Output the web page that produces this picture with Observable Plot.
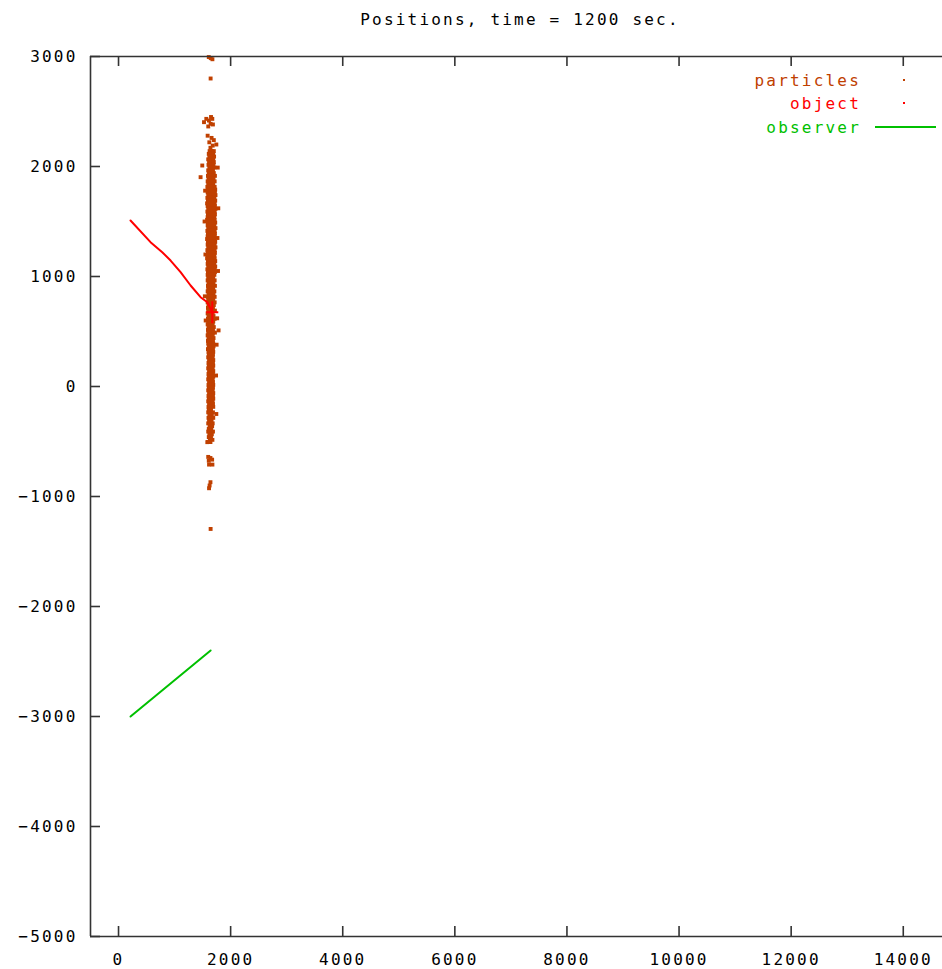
<!DOCTYPE html>
<html>
<head>
<meta charset="utf-8">
<script src="https://cdn.jsdelivr.net/npm/d3@7"></script>
<script src="https://cdn.jsdelivr.net/npm/@observablehq/plot@0.6"></script>
<style>
  html, body { margin: 0; padding: 0; background: #fff; }
  #title {
    width: 942px; height: 38px; box-sizing: border-box;
    padding-top: 11.5px; padding-left: 98px;
    font-family: "DejaVu Sans Mono", monospace; font-size: 16px; line-height: 16px;
    letter-spacing: 2.2px; text-align: center; color: #000;
  }
  svg text { letter-spacing: 2.2px; }
</style>
</head>
<body>
<div id="title">Positions, time = 1200 sec.</div>
<div id="chart"></div>
<script>
// ---- data ----
const xDomain = [-500, 14700];
const yDomain = [-5000, 3000];
const xTicks = [0, 2000, 4000, 6000, 8000, 10000, 12000, 14000];
const yTicks = [-5000, -4000, -3000, -2000, -1000, 0, 1000, 2000, 3000];

const seriesNames = ["particles", "object", "observer"];
const seriesColors = ["#c04000", "#ff0000", "#00c000"];

// dense particle core: [y, x1, x2, ...]
const particleRows = [
  [2140,1625,1665,1700],[2115,1610,1650,1690],[2090,1620,1660,1705],[2065,1600,1645,1690],
  [2040,1615,1655,1700],[2015,1605,1650,1695],[1990,1620,1665,1710],[1965,1600,1640,1685],
  [1940,1610,1655,1700],[1915,1595,1640,1690,1720],[1890,1605,1650,1695],[1865,1590,1635,1680,1715],
  [1840,1600,1645,1690],[1815,1585,1630,1675,1715],[1790,1595,1640,1685,1725],[1765,1590,1635,1680,1720],
  [1740,1600,1645,1690,1730],[1715,1585,1630,1670,1710],[1690,1595,1640,1685,1725],[1665,1580,1625,1670,1715],
  [1640,1590,1635,1680,1720],[1615,1600,1645,1690,1730],[1590,1585,1630,1675,1715],[1565,1595,1640,1680,1720],
  [1540,1590,1635,1675,1710],[1515,1580,1625,1670,1715],[1490,1595,1640,1685,1725],[1465,1590,1630,1670,1710],
  [1440,1600,1645,1690,1730],[1415,1585,1630,1675,1715],[1390,1595,1640,1680,1720],[1365,1590,1635,1675,1715],
  [1340,1580,1625,1670,1710],[1315,1595,1640,1685,1725],[1290,1590,1630,1670,1715],[1265,1600,1645,1690,1730],
  [1240,1585,1630,1675,1715],[1215,1595,1640,1680,1720],[1190,1590,1635,1675,1710],[1165,1580,1625,1670,1715],
  [1140,1595,1640,1685,1725],[1115,1590,1630,1670,1710],[1090,1600,1645,1690,1725],[1065,1585,1630,1675,1715],
  [1040,1595,1640,1680,1720],[1015,1590,1635,1675,1710],
  [990,1600,1645,1690],[965,1590,1635,1680,1715],[940,1605,1650,1695],[915,1595,1640,1685,1720],
  [890,1600,1645,1690],[865,1590,1630,1675,1710],[840,1605,1650,1695],[815,1595,1640,1685,1715],
  [790,1600,1645,1690],[765,1590,1635,1680,1715],[740,1605,1650,1700],[715,1595,1640,1685],
  [690,1600,1645,1690,1720],[665,1590,1635,1680],[640,1605,1650,1695],[615,1595,1640,1685,1715],
  [590,1600,1645,1690],[565,1590,1635,1680],[540,1605,1650,1700],[515,1595,1640,1685],
  [490,1600,1645,1690,1720],[465,1590,1635,1680],[440,1605,1650,1695],[415,1595,1640,1685],
  [390,1600,1645,1690],[365,1610,1650,1695],[340,1595,1640,1685],[315,1605,1650,1690],
  [290,1610,1645,1685],[265,1600,1640,1680],[240,1615,1650,1690],[215,1605,1645,1685],
  [190,1610,1650,1690],[165,1600,1640,1680],[140,1615,1655,1690],[115,1605,1645,1685],
  [90,1610,1650,1690],[65,1600,1640,1680],[40,1615,1650,1685],[15,1605,1645,1690],
  [-10,1610,1650,1685],[-35,1600,1640,1680],[-60,1615,1655,1690],[-85,1605,1645,1685],
  [-110,1610,1650,1690],[-135,1600,1640,1680],[-160,1615,1650,1685],[-185,1605,1645,1690],
  [-210,1610,1650],[-235,1600,1645,1685],[-260,1620,1665],[-285,1605,1650,1690],
  [-310,1615,1660],[-335,1600,1640,1680],[-360,1625,1670],[-385,1610,1655],
  [-410,1600,1645,1685],[-435,1620,1665],[-460,1610,1650],[-485,1630,1675],[-505,1595,1640]
];
// scattered particles outside the core: [x, y]
const particleStrays = [
  [1610,2995],[1645,2985],[1675,2975],[1643,2800],
  [1525,2403],[1566,2433],[1613,2418],[1643,2388],[1601,2364],[1673,2433],[1684,2382],[1650,2450],
  [1590,2280],[1660,2260],[1700,2240],[1620,2220],[1745,2200],[1680,2190],[1640,2170],
  [1494,2009],[1464,1903],[1545,1780],[1535,1500],[1550,1200],[1540,820],[1555,600],
  [1770,1990],[1780,1620],[1765,1350],[1775,1050],[1785,510],[1760,620],[1750,380],[1740,100],[1745,-250],
  [1584,-506],[1600,-640],[1640,-650],[1670,-665],[1610,-675],[1615,-710],[1675,-710],
  [1640,-870],[1625,-900],[1615,-925],[1643,-1295]
];
// object trajectory
const objectX = [214, 571, 780, 929, 1107, 1286, 1464, 1584, 1673];
const objectY = [1509, 1312, 1221, 1145, 1039, 918, 812, 766, 675];
// observer trajectory
const observerX = [214, 1643];
const observerY = [-3000, -2400];

// ---- tables built from the arrays ----
const particles = [];
for (const [y, ...xs] of particleRows) for (const x of xs) particles.push({x, y});
for (const [x, y] of particleStrays) particles.push({x, y});
const objectPath = objectX.map((x, i) => ({x, y: objectY[i]}));
const objectNow = [objectPath[objectPath.length - 1]];
const observerPath = observerX.map((x, i) => ({x, y: observerY[i]}));

const W = 942, H = 931, mL = 90, mR = 0, mT = 18, mB = 33;
const frameW = W - mL - mR, frameH = H - mT - mB;
const axisColor = "#333";
const fmt = d => String(d).replace("-", "\u2212");

// cross marker for the object's current position
const crossSymbol = {
  draw(c) { c.moveTo(-6, 0); c.lineTo(6, 0); c.moveTo(0, -11); c.lineTo(0, 11); }
};

const plot = Plot.plot({
  width: W, height: H,
  marginLeft: mL, marginRight: mR, marginTop: mT, marginBottom: mB,
  style: {fontFamily: "DejaVu Sans Mono, monospace", fontSize: "16px", color: "#000", background: "#fff"},
  x: {domain: xDomain, axis: null},
  y: {domain: yDomain, axis: null},
  marks: [
    // particles
    Plot.dot(particles, {x: "x", y: "y", symbol: "square", r: 2.2, fill: seriesColors[0], stroke: null}),
    // object
    Plot.line(objectPath, {x: "x", y: "y", stroke: seriesColors[1], strokeWidth: 2}),
    Plot.dot(objectNow, {x: "x", y: "y", symbol: crossSymbol, fill: "none", stroke: seriesColors[1], strokeWidth: 2}),
    // observer
    Plot.line(observerPath, {x: "x", y: "y", stroke: seriesColors[2], strokeWidth: 2}),
    // borders (left, top, bottom)
    Plot.ruleY([yDomain[0], yDomain[1]], {stroke: axisColor, strokeWidth: 1.6}),
    Plot.ruleX([xDomain[0]], {stroke: axisColor, strokeWidth: 1.6}),
    // inward ticks
    Plot.ruleX(xTicks, {insetTop: frameH - 10, stroke: axisColor, strokeWidth: 1.6}),
    Plot.ruleX(xTicks, {insetBottom: frameH - 10, stroke: axisColor, strokeWidth: 1.6}),
    Plot.ruleY(yTicks, {insetRight: frameW - 10, stroke: axisColor, strokeWidth: 1.6}),
    // tick labels
    Plot.text(xTicks, {x: d => d, frameAnchor: "bottom", dy: 23, lineAnchor: "middle", text: fmt, fill: "#000"}),
    Plot.text(yTicks, {y: d => d, frameAnchor: "left", dx: -13, textAnchor: "end", lineAnchor: "middle", text: fmt, fill: "#000"})
  ]
});
document.getElementById("chart").appendChild(plot);

// ---- legend (top right, inside the frame) ----
const svg = d3.select(plot);
const top0 = 38; // page offset of svg
const lg = svg.append("g").attr("font-family", "DejaVu Sans Mono, monospace").attr("font-size", 16);
const rowsY = [80, 103, 127];
seriesNames.forEach((name, i) => {
  lg.append("text").attr("x", 861).attr("y", rowsY[i] - top0).attr("dy", "0.35em")
    .attr("text-anchor", "end").attr("fill", seriesColors[i]).text(name);
});
lg.append("rect").attr("x", 903).attr("y", rowsY[0] - top0 - 1).attr("width", 2).attr("height", 2).attr("fill", seriesColors[0]);
lg.append("rect").attr("x", 903).attr("y", rowsY[1] - top0 - 1).attr("width", 2).attr("height", 2).attr("fill", seriesColors[1]);
lg.append("line").attr("x1", 875).attr("x2", 936).attr("y1", rowsY[2] - top0).attr("y2", rowsY[2] - top0)
  .attr("stroke", seriesColors[2]).attr("stroke-width", 2);
</script>
</body>
</html>
